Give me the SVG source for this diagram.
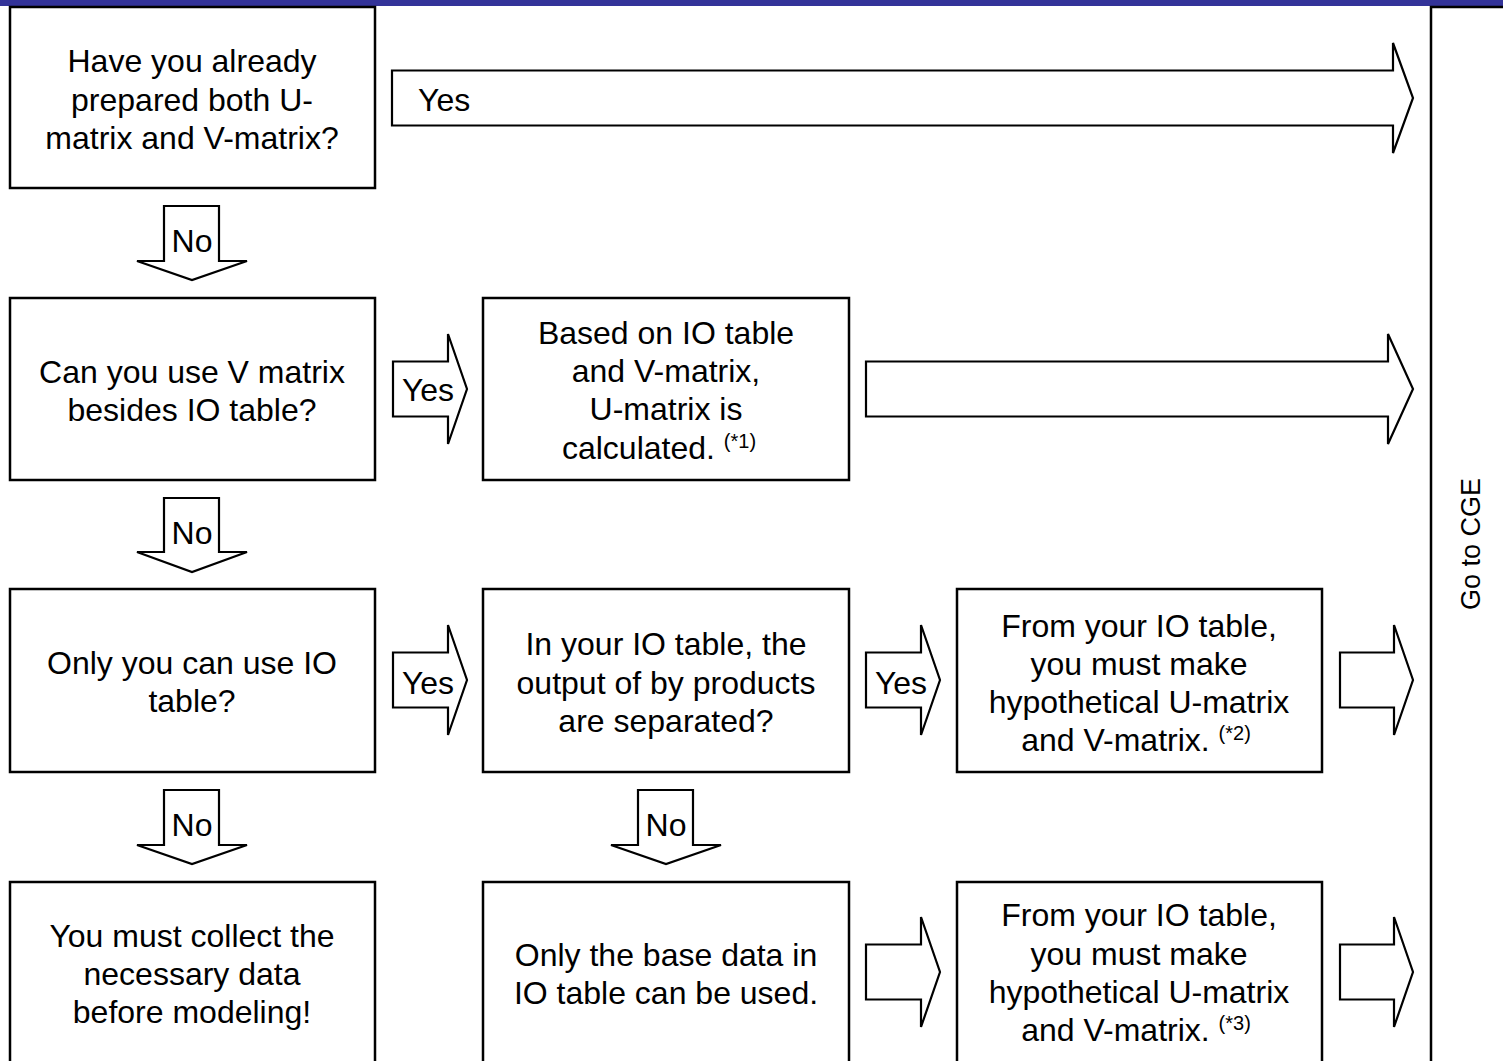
<svg xmlns="http://www.w3.org/2000/svg" width="1503" height="1061" viewBox="0 0 1503 1061">
<style>
.box{fill:#fff;stroke:#000;stroke-width:2.5}
.arr{fill:#fff;stroke:#000;stroke-width:2.2;stroke-linejoin:miter}
text{font-family:"Liberation Sans",Arial,sans-serif;font-size:32px;fill:#000}
.c{text-anchor:middle}
.sup{font-size:20px}
</style>
<rect x="0" y="0" width="1503" height="6" fill="#333399"/>
<g id="connectors">
<path class="arr" d="M392,70.5 H1393 V43 L1413,98 L1393,153 V125.5 H392 Z"/>
<text x="418" y="111">Yes</text>
<path class="arr" d="M164,206 H219 V261 H247 L192,280 L137,261 H164 Z"/>
<text class="c" x="192" y="252">No</text>
<path class="arr" d="M393,361.5 H448 V334 L467,389 L448,444 V416.5 H393 Z"/>
<text class="c" x="428" y="401">Yes</text>
<path class="arr" d="M866,361.5 H1388 V334 L1413,389 L1388,444 V416.5 H866 Z"/>
<path class="arr" d="M164,498 H219 V552 H247 L192,572 L137,552 H164 Z"/>
<text class="c" x="192" y="544">No</text>
<path class="arr" d="M393,652.5 H448 V625 L467,680 L448,735 V707.5 H393 Z"/>
<text class="c" x="428" y="694">Yes</text>
<path class="arr" d="M866,652.5 H921 V625 L940,680 L921,735 V707.5 H866 Z"/>
<text class="c" x="901" y="694">Yes</text>
<path class="arr" d="M1340,652.5 H1394 V625 L1413,680 L1394,735 V707.5 H1340 Z"/>
<path class="arr" d="M164,790 H219 V845 H247 L192,864 L137,845 H164 Z"/>
<text class="c" x="192" y="836">No</text>
<path class="arr" d="M638,790 H693 V845 H721 L666,864 L611,845 H638 Z"/>
<text class="c" x="666" y="836">No</text>
<path class="arr" d="M866,944.5 H921 V917 L940,972 L921,1027 V999.5 H866 Z"/>
<path class="arr" d="M1340,944.5 H1394 V917 L1413,972 L1394,1027 V999.5 H1340 Z"/>
</g>
<g id="n1">
<rect class="box" x="10" y="7" width="365" height="181"/>
<text class="c" x="192" y="72">Have you already</text>
<text class="c" x="192" y="111">prepared both U-</text>
<text class="c" x="192" y="149">matrix and V-matrix?</text>
</g>
<g id="n2">
<rect class="box" x="10" y="298" width="365" height="182"/>
<text class="c" x="192" y="383">Can you use V matrix</text>
<text class="c" x="192" y="421">besides IO table?</text>
</g>
<g id="n3">
<rect class="box" x="483" y="298" width="366" height="182"/>
<text class="c" x="666" y="344">Based on IO table</text>
<text class="c" x="666" y="382">and V-matrix,</text>
<text class="c" x="666" y="420">U-matrix is</text>
<text class="c" x="659" y="459">calculated. <tspan class="sup" dy="-11">(*1)</tspan></text>
</g>
<g id="n4">
<rect class="box" x="10" y="589" width="365" height="183"/>
<text class="c" x="192" y="674">Only you can use IO</text>
<text class="c" x="192" y="712">table?</text>
</g>
<g id="n5">
<rect class="box" x="483" y="589" width="366" height="183"/>
<text class="c" x="666" y="655">In your IO table, the</text>
<text class="c" x="666" y="694">output of by products</text>
<text class="c" x="666" y="732">are separated?</text>
</g>
<g id="n6">
<rect class="box" x="957" y="589" width="365" height="183"/>
<text class="c" x="1139" y="637">From your IO table,</text>
<text class="c" x="1139" y="675">you must make</text>
<text class="c" x="1139" y="713">hypothetical U-matrix</text>
<text class="c" x="1136" y="751">and V-matrix. <tspan class="sup" dy="-11">(*2)</tspan></text>
</g>
<g id="n7">
<rect class="box" x="10" y="882" width="365" height="200"/>
<text class="c" x="192" y="947">You must collect the</text>
<text class="c" x="192" y="985">necessary data</text>
<text class="c" x="192" y="1023">before modeling!</text>
</g>
<g id="n8">
<rect class="box" x="483" y="882" width="366" height="200"/>
<text class="c" x="666" y="966">Only the base data in</text>
<text class="c" x="666" y="1004">IO table can be used.</text>
</g>
<g id="n9">
<rect class="box" x="957" y="882" width="365" height="200"/>
<text class="c" x="1139" y="926">From your IO table,</text>
<text class="c" x="1139" y="965">you must make</text>
<text class="c" x="1139" y="1003">hypothetical U-matrix</text>
<text class="c" x="1136" y="1041">and V-matrix. <tspan class="sup" dy="-11">(*3)</tspan></text>
</g>
<g id="n10">
<rect class="box" x="1431" y="7" width="90" height="1080"/>
<text class="c" x="1480" y="544" transform="rotate(-90 1480 544)" style="font-size:27px">Go to CGE</text>
</g>
</svg>
